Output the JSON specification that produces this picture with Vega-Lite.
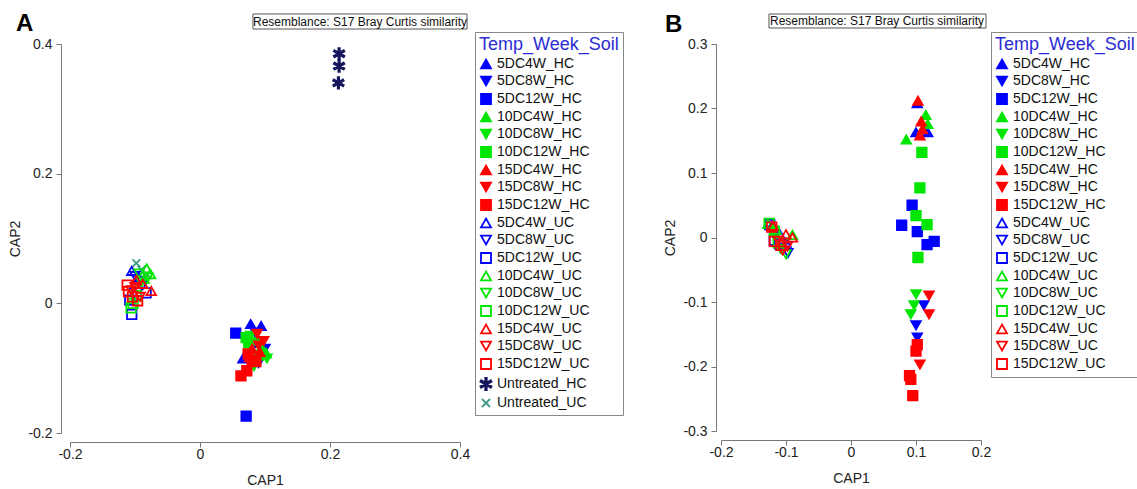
{
  "$schema": "https://vega.github.io/schema/vega-lite/v6.json",
  "padding": {"left": 8, "top": 12, "right": 0, "bottom": 5},
  "background": "white",
  "config": {
    "font": "Liberation Sans",
    "view": {"stroke": null},
    "axis": {"grid": false, "domainColor": "#777", "tickColor": "#777", "tickSize": 5, "labelColor": "#222", "titleColor": "#222", "labelFontSize": 14, "titleFontSize": 14, "titleFontWeight": "normal", "labelFont": "Liberation Sans", "titleFont": "Liberation Sans", "labelPadding": 0, "labelFlush": false},
    "legend": {"symbolStrokeWidth": 1.8, "labelFont": "Liberation Sans", "titleFont": "Liberation Sans"},
    "title": {"font": "Liberation Sans", "fontSize": 24, "fontWeight": "bold", "color": "black"}
  },
  "datasets": {
    "a": [
      {"group": "Untreated_UC", "cap1": -0.098, "cap2": 0.062},
      {"group": "Untreated_UC", "cap1": -0.082, "cap2": 0.045},
      {"group": "Untreated_UC", "cap1": -0.09, "cap2": 0.052},
      {"group": "5DC4W_UC", "cap1": -0.105, "cap2": 0.05},
      {"group": "5DC4W_UC", "cap1": -0.095, "cap2": 0.04},
      {"group": "5DC4W_UC", "cap1": -0.1, "cap2": 0.03},
      {"group": "5DC8W_UC", "cap1": -0.092, "cap2": 0.035},
      {"group": "5DC8W_UC", "cap1": -0.1, "cap2": 0.042},
      {"group": "5DC8W_UC", "cap1": -0.088, "cap2": 0.028},
      {"group": "5DC12W_UC", "cap1": -0.083, "cap2": 0.016},
      {"group": "5DC12W_UC", "cap1": -0.105, "cap2": -0.017},
      {"group": "5DC12W_UC", "cap1": -0.108, "cap2": 0.005},
      {"group": "10DC4W_UC", "cap1": -0.082, "cap2": 0.054},
      {"group": "10DC4W_UC", "cap1": -0.076, "cap2": 0.045},
      {"group": "10DC4W_UC", "cap1": -0.086, "cap2": 0.038},
      {"group": "10DC8W_UC", "cap1": -0.08, "cap2": 0.04},
      {"group": "10DC8W_UC", "cap1": -0.09, "cap2": 0.032},
      {"group": "10DC8W_UC", "cap1": -0.094, "cap2": 0.046},
      {"group": "10DC12W_UC", "cap1": -0.106, "cap2": -0.007},
      {"group": "10DC12W_UC", "cap1": -0.103, "cap2": 0.0},
      {"group": "10DC12W_UC", "cap1": -0.098, "cap2": 0.012},
      {"group": "15DC4W_UC", "cap1": -0.075, "cap2": 0.019},
      {"group": "15DC4W_UC", "cap1": -0.088, "cap2": 0.03},
      {"group": "15DC4W_UC", "cap1": -0.098, "cap2": 0.036},
      {"group": "15DC8W_UC", "cap1": -0.1, "cap2": 0.025},
      {"group": "15DC8W_UC", "cap1": -0.106, "cap2": 0.02},
      {"group": "15DC8W_UC", "cap1": -0.092, "cap2": 0.01},
      {"group": "15DC12W_UC", "cap1": -0.11, "cap2": 0.018},
      {"group": "15DC12W_UC", "cap1": -0.104, "cap2": 0.01},
      {"group": "15DC12W_UC", "cap1": -0.096, "cap2": 0.004},
      {"group": "15DC12W_UC", "cap1": -0.112, "cap2": 0.028},
      {"group": "5DC4W_HC", "cap1": 0.078, "cap2": -0.032},
      {"group": "5DC4W_HC", "cap1": 0.094, "cap2": -0.035},
      {"group": "5DC4W_HC", "cap1": 0.066, "cap2": -0.085},
      {"group": "5DC8W_HC", "cap1": 0.085, "cap2": -0.045},
      {"group": "5DC8W_HC", "cap1": 0.1, "cap2": -0.07},
      {"group": "5DC8W_HC", "cap1": 0.09, "cap2": -0.092},
      {"group": "5DC12W_HC", "cap1": 0.055, "cap2": -0.046},
      {"group": "5DC12W_HC", "cap1": 0.071, "cap2": -0.174},
      {"group": "5DC12W_HC", "cap1": 0.092, "cap2": -0.06},
      {"group": "10DC4W_HC", "cap1": 0.102, "cap2": -0.077},
      {"group": "10DC4W_HC", "cap1": 0.088, "cap2": -0.055},
      {"group": "10DC4W_HC", "cap1": 0.095, "cap2": -0.068},
      {"group": "10DC8W_HC", "cap1": 0.103, "cap2": -0.085},
      {"group": "10DC8W_HC", "cap1": 0.083, "cap2": -0.097},
      {"group": "10DC8W_HC", "cap1": 0.078, "cap2": -0.05},
      {"group": "10DC12W_HC", "cap1": 0.071, "cap2": -0.053},
      {"group": "10DC12W_HC", "cap1": 0.075, "cap2": -0.061},
      {"group": "10DC12W_HC", "cap1": 0.09, "cap2": -0.08},
      {"group": "15DC4W_HC", "cap1": 0.08, "cap2": -0.07},
      {"group": "15DC4W_HC", "cap1": 0.092, "cap2": -0.075},
      {"group": "15DC4W_HC", "cap1": 0.076, "cap2": -0.083},
      {"group": "15DC8W_HC", "cap1": 0.088, "cap2": -0.047},
      {"group": "15DC8W_HC", "cap1": 0.09, "cap2": -0.065},
      {"group": "15DC8W_HC", "cap1": 0.098, "cap2": -0.058},
      {"group": "15DC12W_HC", "cap1": 0.063, "cap2": -0.112},
      {"group": "15DC12W_HC", "cap1": 0.072, "cap2": -0.104},
      {"group": "15DC12W_HC", "cap1": 0.08, "cap2": -0.088},
      {"group": "15DC12W_HC", "cap1": 0.074, "cap2": -0.078},
      {"group": "15DC12W_HC", "cap1": 0.086, "cap2": -0.09},
      {"group": "Untreated_HC", "cap1": 0.214, "cap2": 0.385},
      {"group": "Untreated_HC", "cap1": 0.214, "cap2": 0.366},
      {"group": "Untreated_HC", "cap1": 0.213, "cap2": 0.34}
    ],
    "b": [
      {"group": "5DC4W_UC", "cap1": -0.122, "cap2": 0.018},
      {"group": "5DC4W_UC", "cap1": -0.11, "cap2": 0.006},
      {"group": "5DC4W_UC", "cap1": -0.1, "cap2": -0.008},
      {"group": "5DC8W_UC", "cap1": -0.097, "cap2": -0.024},
      {"group": "5DC8W_UC", "cap1": -0.106, "cap2": -0.016},
      {"group": "5DC8W_UC", "cap1": -0.116, "cap2": 0.0},
      {"group": "5DC12W_UC", "cap1": -0.125, "cap2": 0.02},
      {"group": "5DC12W_UC", "cap1": -0.118, "cap2": -0.004},
      {"group": "5DC12W_UC", "cap1": -0.11, "cap2": -0.01},
      {"group": "10DC4W_UC", "cap1": -0.128, "cap2": 0.021},
      {"group": "10DC4W_UC", "cap1": -0.09, "cap2": 0.004},
      {"group": "10DC4W_UC", "cap1": -0.115, "cap2": 0.012},
      {"group": "10DC8W_UC", "cap1": -0.1, "cap2": -0.026},
      {"group": "10DC8W_UC", "cap1": -0.108, "cap2": -0.018},
      {"group": "10DC8W_UC", "cap1": -0.12, "cap2": 0.008},
      {"group": "10DC12W_UC", "cap1": -0.126, "cap2": 0.022},
      {"group": "10DC12W_UC", "cap1": -0.118, "cap2": 0.01},
      {"group": "10DC12W_UC", "cap1": -0.112, "cap2": -0.008},
      {"group": "15DC4W_UC", "cap1": -0.09, "cap2": 0.0},
      {"group": "15DC4W_UC", "cap1": -0.1, "cap2": 0.005},
      {"group": "15DC4W_UC", "cap1": -0.12, "cap2": 0.018},
      {"group": "15DC8W_UC", "cap1": -0.105, "cap2": -0.02},
      {"group": "15DC8W_UC", "cap1": -0.098, "cap2": -0.014},
      {"group": "15DC8W_UC", "cap1": -0.112, "cap2": -0.005},
      {"group": "15DC12W_UC", "cap1": -0.122, "cap2": 0.016},
      {"group": "15DC12W_UC", "cap1": -0.118, "cap2": -0.006},
      {"group": "15DC12W_UC", "cap1": -0.108, "cap2": -0.012},
      {"group": "5DC4W_HC", "cap1": 0.102, "cap2": 0.208},
      {"group": "5DC4W_HC", "cap1": 0.1, "cap2": 0.163},
      {"group": "5DC4W_HC", "cap1": 0.118, "cap2": 0.163},
      {"group": "5DC8W_HC", "cap1": 0.112, "cap2": -0.105},
      {"group": "5DC8W_HC", "cap1": 0.1, "cap2": -0.136},
      {"group": "5DC8W_HC", "cap1": 0.102, "cap2": -0.155},
      {"group": "5DC12W_HC", "cap1": 0.094, "cap2": 0.05},
      {"group": "5DC12W_HC", "cap1": 0.078, "cap2": 0.019},
      {"group": "5DC12W_HC", "cap1": 0.102, "cap2": 0.009},
      {"group": "5DC12W_HC", "cap1": 0.117, "cap2": -0.011},
      {"group": "5DC12W_HC", "cap1": 0.128, "cap2": -0.006},
      {"group": "10DC4W_HC", "cap1": 0.115, "cap2": 0.19},
      {"group": "10DC4W_HC", "cap1": 0.085, "cap2": 0.152},
      {"group": "10DC4W_HC", "cap1": 0.118, "cap2": 0.176},
      {"group": "10DC8W_HC", "cap1": 0.1, "cap2": -0.088},
      {"group": "10DC8W_HC", "cap1": 0.097, "cap2": -0.105},
      {"group": "10DC8W_HC", "cap1": 0.092, "cap2": -0.119},
      {"group": "10DC12W_HC", "cap1": 0.109, "cap2": 0.132},
      {"group": "10DC12W_HC", "cap1": 0.106, "cap2": 0.077},
      {"group": "10DC12W_HC", "cap1": 0.1, "cap2": 0.034},
      {"group": "10DC12W_HC", "cap1": 0.117, "cap2": 0.02},
      {"group": "10DC12W_HC", "cap1": 0.103, "cap2": -0.031},
      {"group": "15DC4W_HC", "cap1": 0.103, "cap2": 0.212},
      {"group": "15DC4W_HC", "cap1": 0.108, "cap2": 0.18},
      {"group": "15DC4W_HC", "cap1": 0.11, "cap2": 0.168},
      {"group": "15DC4W_HC", "cap1": 0.106, "cap2": 0.158},
      {"group": "15DC8W_HC", "cap1": 0.12, "cap2": -0.09},
      {"group": "15DC8W_HC", "cap1": 0.12, "cap2": -0.119},
      {"group": "15DC8W_HC", "cap1": 0.106, "cap2": -0.197},
      {"group": "15DC12W_HC", "cap1": 0.102, "cap2": -0.166},
      {"group": "15DC12W_HC", "cap1": 0.1, "cap2": -0.176},
      {"group": "15DC12W_HC", "cap1": 0.092, "cap2": -0.22},
      {"group": "15DC12W_HC", "cap1": 0.09, "cap2": -0.214},
      {"group": "15DC12W_HC", "cap1": 0.095, "cap2": -0.245}
    ]
  },
  "hconcat": [
    {
      "title": {"text": "A", "anchor": "start", "frame": "bounds", "offset": -23, "dx": 7},
      "width": 390,
      "height": 389,
      "layer": [
        {
          "data": {"name": "a"},
          "mark": {"type": "point", "size": 90, "strokeWidth": 1.8, "opacity": 1},
          "encoding": {
            "x": {"field": "cap1", "type": "quantitative", "scale": {"domain": [-0.2, 0.4], "nice": false, "zero": false},
              "axis": {"title": "CAP1", "values": [-0.2, 0, 0.2, 0.4], "offset": 9, "titlePadding": 12, "labelExpr": "datum.value == 0 ? '0' : replace(format(datum.value, '.1f'), '\u2212', '-')"}},
            "y": {"field": "cap2", "type": "quantitative", "scale": {"domain": [-0.2, 0.4], "nice": false, "zero": false},
              "axis": {"title": "CAP2", "values": [-0.2, 0, 0.2, 0.4], "offset": 9, "titlePadding": 5, "labelPadding": 4, "labelExpr": "datum.value == 0 ? '0' : replace(format(datum.value, '.1f'), '\u2212', '-')"}},
            "shape": {"field": "group", "type": "nominal",
              "scale": {"domain": ["5DC4W_HC","5DC8W_HC","5DC12W_HC","10DC4W_HC","10DC8W_HC","10DC12W_HC","15DC4W_HC","15DC8W_HC","15DC12W_HC","5DC4W_UC","5DC8W_UC","5DC12W_UC","10DC4W_UC","10DC8W_UC","10DC12W_UC","15DC4W_UC","15DC8W_UC","15DC12W_UC","Untreated_HC","Untreated_UC"],
                "range": ["triangle-up","triangle-down","square","triangle-up","triangle-down","square","triangle-up","triangle-down","square","triangle-up","triangle-down","square","triangle-up","triangle-down","square","triangle-up","triangle-down","square","M-0.15,-1.2L0.15,-1.2L0.15,1.2L-0.15,1.2ZM0.964,-0.73L1.114,-0.47L-0.964,0.73L-1.114,0.47ZM1.114,0.47L0.964,0.73L-1.114,-0.47L-0.964,-0.73Z","M-0.8,-0.8L0.8,0.8M-0.8,0.8L0.8,-0.8"]},
              "legend": {"title": "Temp_Week_Soil", "orient": "none", "legendX": 405, "legendY": -12, "strokeColor": "#888", "fillColor": "white", "padding": 4, "titleFontSize": 18, "titleColor": "#2b2bd6", "titleFontWeight": "normal", "titlePadding": 3, "labelFontSize": 14, "labelColor": "#111", "symbolSize": 100, "rowPadding": 1, "labelOffset": 4}},
            "fill": {"field": "group", "type": "nominal",
              "scale": {"domain": ["5DC4W_HC","5DC8W_HC","5DC12W_HC","10DC4W_HC","10DC8W_HC","10DC12W_HC","15DC4W_HC","15DC8W_HC","15DC12W_HC","5DC4W_UC","5DC8W_UC","5DC12W_UC","10DC4W_UC","10DC8W_UC","10DC12W_UC","15DC4W_UC","15DC8W_UC","15DC12W_UC","Untreated_HC","Untreated_UC"],
                "range": ["#0000ff","#0000ff","#0000ff","#00e600","#00e600","#00e600","#ff0000","#ff0000","#ff0000","transparent","transparent","transparent","transparent","transparent","transparent","transparent","transparent","transparent","#16165e","transparent"]},
              "legend": {"title": "Temp_Week_Soil", "orient": "none", "legendX": 405, "legendY": -12, "strokeColor": "#888", "fillColor": "white", "padding": 4, "titleFontSize": 18, "titleColor": "#2b2bd6", "titleFontWeight": "normal", "titlePadding": 3, "labelFontSize": 14, "labelColor": "#111", "symbolSize": 100, "rowPadding": 1, "labelOffset": 4}},
            "stroke": {"field": "group", "type": "nominal",
              "scale": {"domain": ["5DC4W_HC","5DC8W_HC","5DC12W_HC","10DC4W_HC","10DC8W_HC","10DC12W_HC","15DC4W_HC","15DC8W_HC","15DC12W_HC","5DC4W_UC","5DC8W_UC","5DC12W_UC","10DC4W_UC","10DC8W_UC","10DC12W_UC","15DC4W_UC","15DC8W_UC","15DC12W_UC","Untreated_HC","Untreated_UC"],
                "range": ["#0000ff","#0000ff","#0000ff","#00e600","#00e600","#00e600","#ff0000","#ff0000","#ff0000","#0000ff","#0000ff","#0000ff","#00e600","#00e600","#00e600","#ff0000","#ff0000","#ff0000","#16165e","#3f9a8a"]},
              "legend": {"title": "Temp_Week_Soil", "orient": "none", "legendX": 405, "legendY": -12, "strokeColor": "#888", "fillColor": "white", "padding": 4, "titleFontSize": 18, "titleColor": "#2b2bd6", "titleFontWeight": "normal", "titlePadding": 3, "labelFontSize": 14, "labelColor": "#111", "symbolSize": 100, "rowPadding": 1, "labelOffset": 4}}
          }
        },
        {
          "data": {"values": [{}]},
          "mark": {"type": "rect", "fill": "white", "stroke": "#555", "strokeWidth": 1},
          "encoding": {"x": {"datum": 0.0815}, "x2": {"datum": 0.4108}, "y": {"datum": 0.4463}, "y2": {"datum": 0.4231}}
        },
        {
          "data": {"values": [{}]},
          "mark": {"type": "text", "fontSize": 12, "color": "#111", "align": "center", "baseline": "middle"},
          "encoding": {"x": {"datum": 0.2462}, "y": {"datum": 0.4347}, "text": {"value": "Resemblance: S17 Bray Curtis similarity"}}
        }
      ]
    },
    {
      "title": {"text": "B", "anchor": "start", "frame": "bounds", "offset": -23, "dx": 1},
      "width": 260,
      "height": 387,
      "layer": [
        {
          "data": {"name": "b"},
          "mark": {"type": "point", "size": 90, "strokeWidth": 1.8, "opacity": 1},
          "encoding": {
            "x": {"field": "cap1", "type": "quantitative", "scale": {"domain": [-0.2, 0.2], "nice": false, "zero": false},
              "axis": {"title": "CAP1", "values": [-0.2, -0.1, 0, 0.1, 0.2], "offset": 9, "titlePadding": 12, "labelExpr": "datum.value == 0 ? '0' : replace(format(datum.value, '.1f'), '\u2212', '-')"}},
            "y": {"field": "cap2", "type": "quantitative", "scale": {"domain": [-0.3, 0.3], "nice": false, "zero": false},
              "axis": {"title": "CAP2", "values": [-0.3, -0.2, -0.1, 0, 0.1, 0.2, 0.3], "offset": 5, "titlePadding": 5, "labelPadding": 4, "labelExpr": "datum.value == 0 ? '0' : replace(format(datum.value, '.1f'), '\u2212', '-')"}},
            "shape": {"field": "group", "type": "nominal",
              "scale": {"domain": ["5DC4W_HC","5DC8W_HC","5DC12W_HC","10DC4W_HC","10DC8W_HC","10DC12W_HC","15DC4W_HC","15DC8W_HC","15DC12W_HC","5DC4W_UC","5DC8W_UC","5DC12W_UC","10DC4W_UC","10DC8W_UC","10DC12W_UC","15DC4W_UC","15DC8W_UC","15DC12W_UC"],
                "range": ["triangle-up","triangle-down","square","triangle-up","triangle-down","square","triangle-up","triangle-down","square","triangle-up","triangle-down","square","triangle-up","triangle-down","square","triangle-up","triangle-down","square"]},
              "legend": {"title": "Temp_Week_Soil", "orient": "none", "legendX": 270, "legendY": -12, "strokeColor": "#888", "fillColor": "white", "padding": 4, "titleFontSize": 18, "titleColor": "#2b2bd6", "titleFontWeight": "normal", "titlePadding": 3, "labelFontSize": 14, "labelColor": "#111", "symbolSize": 100, "rowPadding": 1, "labelOffset": 4}},
            "fill": {"field": "group", "type": "nominal",
              "scale": {"domain": ["5DC4W_HC","5DC8W_HC","5DC12W_HC","10DC4W_HC","10DC8W_HC","10DC12W_HC","15DC4W_HC","15DC8W_HC","15DC12W_HC","5DC4W_UC","5DC8W_UC","5DC12W_UC","10DC4W_UC","10DC8W_UC","10DC12W_UC","15DC4W_UC","15DC8W_UC","15DC12W_UC"],
                "range": ["#0000ff","#0000ff","#0000ff","#00e600","#00e600","#00e600","#ff0000","#ff0000","#ff0000","transparent","transparent","transparent","transparent","transparent","transparent","transparent","transparent","transparent"]},
              "legend": {"title": "Temp_Week_Soil", "orient": "none", "legendX": 270, "legendY": -12, "strokeColor": "#888", "fillColor": "white", "padding": 4, "titleFontSize": 18, "titleColor": "#2b2bd6", "titleFontWeight": "normal", "titlePadding": 3, "labelFontSize": 14, "labelColor": "#111", "symbolSize": 100, "rowPadding": 1, "labelOffset": 4}},
            "stroke": {"field": "group", "type": "nominal",
              "scale": {"domain": ["5DC4W_HC","5DC8W_HC","5DC12W_HC","10DC4W_HC","10DC8W_HC","10DC12W_HC","15DC4W_HC","15DC8W_HC","15DC12W_HC","5DC4W_UC","5DC8W_UC","5DC12W_UC","10DC4W_UC","10DC8W_UC","10DC12W_UC","15DC4W_UC","15DC8W_UC","15DC12W_UC"],
                "range": ["#0000ff","#0000ff","#0000ff","#00e600","#00e600","#00e600","#ff0000","#ff0000","#ff0000","#0000ff","#0000ff","#0000ff","#00e600","#00e600","#00e600","#ff0000","#ff0000","#ff0000"]},
              "legend": {"title": "Temp_Week_Soil", "orient": "none", "legendX": 270, "legendY": -12, "strokeColor": "#888", "fillColor": "white", "padding": 4, "titleFontSize": 18, "titleColor": "#2b2bd6", "titleFontWeight": "normal", "titlePadding": 3, "labelFontSize": 14, "labelColor": "#111", "symbolSize": 100, "rowPadding": 1, "labelOffset": 4}}
          }
        },
        {
          "data": {"values": [{}]},
          "mark": {"type": "rect", "fill": "white", "stroke": "#555", "strokeWidth": 1},
          "encoding": {"x": {"datum": -0.1262}, "x2": {"datum": 0.2077}, "y": {"datum": 0.3465}, "y2": {"datum": 0.3248}}
        },
        {
          "data": {"values": [{}]},
          "mark": {"type": "text", "fontSize": 12, "color": "#111", "align": "center", "baseline": "middle"},
          "encoding": {"x": {"datum": 0.04}, "y": {"datum": 0.3357}, "text": {"value": "Resemblance: S17 Bray Curtis similarity"}}
        }
      ]
    }
  ],
  "spacing": 39,
  "resolve": {"scale": {"shape": "independent", "fill": "independent", "stroke": "independent", "x": "independent", "y": "independent"}, "legend": {"shape": "independent", "fill": "independent", "stroke": "independent"}}
}
